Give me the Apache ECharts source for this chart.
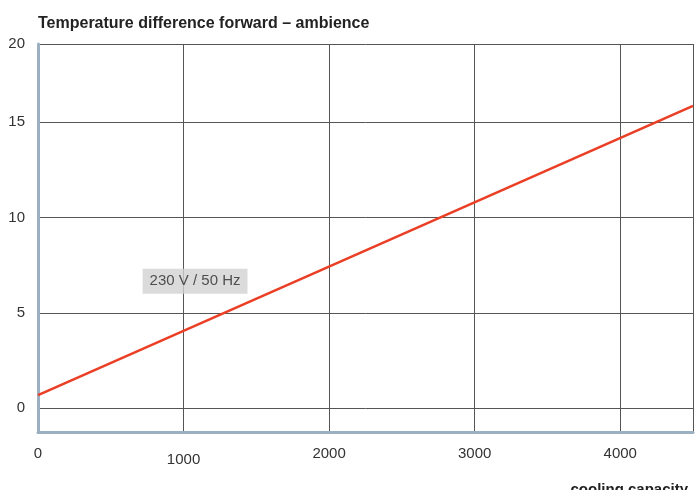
<!DOCTYPE html>
<html>
<head>
<meta charset="utf-8">
<script src="https://cdn.jsdelivr.net/npm/echarts@6/dist/echarts.min.js"></script>
<style>
html,body{margin:0;padding:0;background:#fff;}
#chart{width:696px;height:490px;}
</style>
</head>
<body>
<div id="chart"></div>
<script>
var chartTitle = 'Temperature difference forward \u2013 ambience';
var xAxisName = 'cooling capacity';
var xTicks = [0, 1000, 2000, 3000, 4000];
var yTicks = [0, 5, 10, 15, 20];
var lineX = [0, 4500];
var lineY = [0.68, 15.85];
var noteLabel = '230 V / 50 Hz';
var notePos = [1079, 6.66];

var xMin = 0, xMax = 4500, yMin = -1.25, yMax = 19.1;

var chart = echarts.init(document.getElementById('chart'));
var fontFam = 'Liberation Sans, Arial, sans-serif';
var yTickVals = yTicks.slice(0, -1).concat([yMax]);
var xTickVals = xTicks.concat([xMax]);
chart.setOption({
  animation: false,
  title: [
    {
      text: chartTitle, left: 33, top: 11,
      textStyle: {fontSize: 16, fontWeight: 'bold', color: '#222', fontFamily: fontFam}
    },
    {
      text: xAxisName, right: 3, top: 477,
      textStyle: {fontSize: 15, fontWeight: 'bold', color: '#222', fontFamily: fontFam}
    }
  ],
  grid: {left: 38, right: 3, top: 44, bottom: 58, outerBoundsMode: 'none'},
  xAxis: {
    type: 'value', min: xMin, max: xMax,
    axisLine: {show: true, onZero: false, lineStyle: {color: '#9db0c2', width: 3}},
    axisTick: {show: false, customValues: xTickVals},
    axisLabel: {
      margin: 14, fontSize: 15, color: '#333', fontFamily: fontFam,
      customValues: xTicks,
      formatter: function (v) {
        if (v === 1000) return '{low|' + v + '}';
        return String(v);
      },
      rich: {low: {fontSize: 15, color: '#333', fontFamily: fontFam, padding: [6, 0, 0, 0]}}
    },
    splitLine: {show: true, lineStyle: {color: '#555', width: 1}}
  },
  yAxis: {
    type: 'value', min: yMin, max: yMax,
    axisLine: {show: true, onZero: false, lineStyle: {color: '#9db0c2', width: 3}},
    axisTick: {show: false, customValues: yTickVals},
    axisLabel: {
      margin: 13, fontSize: 15, color: '#333', fontFamily: fontFam,
      customValues: yTickVals,
      formatter: function (v) {
        if (v === yMax) return String(yTicks[yTicks.length - 1]);
        return String(v);
      }
    },
    splitLine: {show: true, lineStyle: {color: '#555', width: 1}}
  },
  series: [
    {
      type: 'line', data: lineX.map(function (x, i) { return [x, lineY[i]]; }),
      symbol: 'none', lineStyle: {color: '#ea3f25', width: 2.5}, z: 3
    },
    {
      type: 'scatter', data: [notePos], symbolSize: 0, z: 4,
      label: {
        show: true, position: 'inside', formatter: noteLabel,
        fontSize: 15, color: '#2a2a2a', fontFamily: fontFam,
        backgroundColor: '#d2d2d2', padding: [5, 7, 5, 7]
      }
    }
  ]
});
</script>
</body>
</html>
